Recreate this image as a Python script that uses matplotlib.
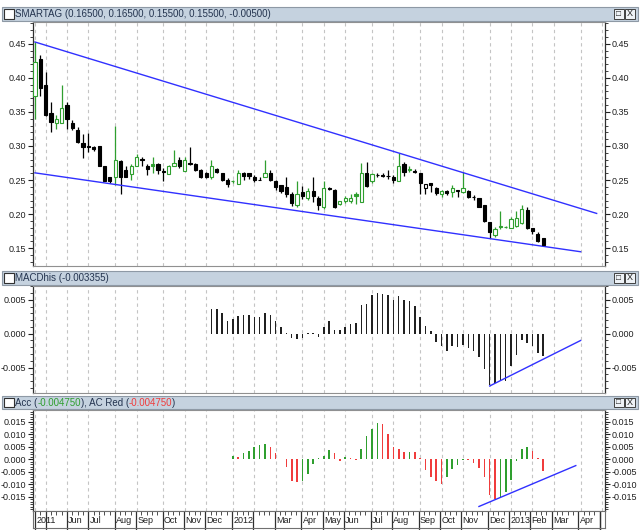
import numpy as np
import pandas as pd
import matplotlib
matplotlib.use("Agg")
import matplotlib.pyplot as plt
from matplotlib import font_manager
from matplotlib.patches import Rectangle
from matplotlib.ticker import MultipleLocator, FixedLocator, FormatStrFormatter

plt.rcParams['font.family'] = ['Liberation Sans', 'DejaVu Sans']
installed = {f.name for f in font_manager.fontManager.ttflist}
title_font = 'Liberation Sans Narrow' if 'Liberation Sans Narrow' in installed else 'Liberation Sans'

# weekly candles (Fridays), first one on 2011-04-22
first_week = "2011-04-22"
n_weeks = 108

opens = [.374, .428, .389, .348, .333, .333, .360, .334, .324, .305,
         .2995, .299, .300, .270, .255, .254, .278, .265, .259, .270,
         .281, .270, .274, .274, .263, .259, .270, .279, .264, .275,
         .274, .265, .261, .254, .266, .260, .250, .249, .244, .260,
         .260, .255, .250, .255, .261, .248, .243, .240, .230, .213,
         .233, .224, .234, .223, .210, .239, .235, .215, .219, .219,
         .229, .218, .260, .248, .2575, .257, .2565, .255, .248, .274,
         .265, .263, .260, .238, .245, .239, .2295, .234, .233, .2345,
         .233, .2345, .2255, .224, .214, .189, .1695, .1825, .1815, .180,
         .183, .187, .206, .179, .1705, .165]
highs = [.452, .434, .408, .365, .345, .389, .365, .338, .328, .318,
         .319, .300, .300, .270, .255, .329, .279, .270, .274, .288,
         .284, .274, .284, .275, .267, .272, .294, .284, .284, .299,
         .275, .266, .262, .280, .268, .261, .253, .250, .265, .262,
         .260, .257, .255, .279, .265, .250, .243, .254, .233, .248,
         .241, .238, .254, .226, .248, .240, .237, .220, .227, .230,
         .233, .275, .276, .260, .261, .2605, .265, .2575, .289, .276,
         .270, .266, .261, .244, .2455, .240, .2355, .236, .243, .236,
         .262, .2355, .228, .224, .214, .189, .181, .2045, .1825, .196,
         .205, .213, .211, .179, .1745, .165]
lows = [.340, .374, .344, .321, .325, .333, .325, .323, .304, .282,
        .291, .293, .270, .249, .245, .243, .230, .255, .250, .270,
        .270, .257, .260, .259, .248, .259, .270, .268, .264, .272,
        .264, .253, .253, .252, .260, .249, .240, .245, .244, .250,
        .252, .247, .2495, .255, .249, .236, .231, .225, .212, .210,
        .222, .221, .218, .206, .208, .235, .209, .214, .216, .216,
        .215, .218, .240, .246, .254, .254, .252, .245, .248, .256,
        .262, .260, .230, .230, .233, .228, .2255, .228, .2255, .2255,
        .2305, .224, .2205, .2105, .189, .1645, .167, .178, .180, .179,
        .181, .186, .178, .1715, .1595, .155]
closes = [.423, .385, .345, .335, .340, .355, .340, .326, .306, .299,
          .298, .295, .270, .249, .2485, .279, .255, .2545, .270, .284,
          .280, .266, .270, .265, .262, .270, .275, .270, .279, .274,
          .265, .255, .254, .270, .262, .250, .244, .248, .260, .256,
          .2555, .250, .2495, .260, .250, .240, .234, .230, .217, .229,
          .226, .234, .226, .214, .239, .237, .211, .219, .223, .224,
          .226, .260, .242, .259, .257, .2565, .256, .250, .270, .262,
          .266, .262, .245, .2437, .2432, .2305, .234, .2305, .238, .236,
          .238, .2255, .225, .2108, .190, .1744, .1785, .1806, .1810, .193,
          .195, .208, .180, .175, .160, .155]

macd_first = 33
macd_hist = [0.0036, 0.0037, 0.0030, 0.0019, 0.0022, 0.0026, 0.0027, 0.0028, 0.0025, 0.0024,
             0.0030, 0.0027, 0.0019, 0.0010, 0.0001, -0.0006, -0.0008, -0.0007, 0.0001, 0.0001,
             -0.0005, 0.0010, 0.0018, 0.0005, 0.0005, 0.0010, 0.0014, 0.0016, 0.0042, 0.0043,
             0.0057, 0.0060, 0.0059, 0.0057, 0.0050, 0.0055, 0.0050, 0.0048, 0.0041, 0.0025,
             0.0011, 0.0004, -0.0012, -0.0018, -0.0025, -0.0018, -0.0020, -0.0016, -0.0021, -0.0025,
             -0.0034, -0.0052, -0.0075, -0.0073, -0.0070, -0.0069, -0.0048, -0.0032, -0.0010, -0.0013,
             -0.0018, -0.0028, -0.003355]

acc_first = 37
acc_vals = [0.0015, 0.0009, 0.0025, 0.0034, 0.0050, 0.0056, 0.0062, 0.0050, 0.0025, 0.0002,
            -0.0029, -0.0085, -0.0091, -0.0087, -0.0058, -0.0020, 0.0005, 0.0015, 0.0037, 0.0025,
            -0.0008, 0.0009, 0.0005, -0.0003, 0.0040, 0.0094, 0.0121, 0.0144, 0.0142, 0.0102,
            0.0050, 0.0040, 0.0030, 0.0031, 0.0028, 0.0006, -0.0041, -0.0072, -0.0085, -0.0100,
            -0.0070, -0.0039, -0.0022, -0.0002, -0.0004, -0.0016, -0.0035, -0.0072, -0.0141, -0.0160,
            -0.0154, -0.0129, -0.0082, -0.0008, 0.0040, 0.0050, 0.0034, 0.0005, -0.00475]

# trend lines: (x0, x1), (y0, y1) in bar positions / values
upper_trend = ([0, 105], [0.4525, 0.2011])
lower_trend = ([0, 102], [0.2606, 0.1449])
macd_trend = ([85, 102], [-0.0077, -0.0010])
acc_trend = ([83, 101.1], [-0.0188, -0.0025])

price_ticks = [0.15, 0.20, 0.25, 0.30, 0.35, 0.40, 0.45]
macd_ticks = [-0.005, 0.0, 0.005]
acc_ticks = [-0.015, -0.010, -0.005, 0.0, 0.005, 0.010, 0.015]

month_labels = ['2011', '', 'Jun', 'Jul', 'Aug', 'Sep', 'Oct', 'Nov', 'Dec',
                '2012', '', 'Mar', 'Apr', 'May', 'Jun', 'Jul', 'Aug', 'Sep', 'Oct', 'Nov', 'Dec',
                '2013', 'Feb', 'Mar', 'Apr', '']

title_main = "SMARTAG (0.16500, 0.16500, 0.15500, 0.15500, -0.00500)"
title_macd = "MACDhis (-0.003355)"

# ---------------------------------------------------------------
W, H = 640, 530
fig = plt.figure(figsize=(W / 100, H / 100), dpi=100)
fig.patch.set_facecolor('white')


def rect(x0, y0, x1, y1):
    return [x0 / W, 1 - y1 / H, (x1 - x0) / W, (y1 - y0) / H]


dates = pd.date_range(first_week, periods=n_weeks, freq='W-FRI')
month_pos = [0] + [i for i in range(1, n_weeks) if dates[i].month != dates[i - 1].month]
xlim = (-0.36, 106.56)

GREEN = '#2f9f2f'
RED = '#f03c3c'
BLUE = '#3030ff'
GRID = '#c4c4c4'


def style_axes(ax, ylim, ticks, minor, fmt):
    ax.set_xlim(*xlim)
    ax.set_ylim(*ylim)
    ax.set_xticks(month_pos)
    ax.tick_params(axis='x', length=0, labelbottom=False)
    ax.grid(axis='x', color=GRID, lw=0.8, ls=(0, (3, 3)))
    ax.set_axisbelow(True)
    ax.yaxis.set_major_locator(FixedLocator(ticks))
    ax.yaxis.set_minor_locator(MultipleLocator(minor))
    ax.yaxis.set_major_formatter(FormatStrFormatter(fmt))
    ax.tick_params(axis='y', which='both', left=True, right=True, labelleft=True,
                   labelright=True, labelsize=6.5, colors='#202020', pad=1.5)
    ax.tick_params(axis='y', which='major', length=3.5, width=0.8)
    ax.tick_params(axis='y', which='minor', length=2, width=0.6)
    for s in ['left', 'right']:
        ax.spines[s].set_color('#303030')
        ax.spines[s].set_linewidth(0.9)
    for s in ['top', 'bottom']:
        ax.spines[s].set_color('#909090')


# ---- price panel
ax = fig.add_axes(rect(33, 22, 605, 266))
style_axes(ax, (0.124, 0.4818), price_ticks, 0.01, '%.2f')
for i in range(len(opens)):
    o, h, l, c = opens[i], highs[i], lows[i], closes[i]
    prev = closes[i - 1] if i > 0 else o
    col = GREEN if c >= prev else 'black'
    ax.vlines(i, l, h, color=col, lw=0.9, zorder=2)
    bottom = min(o, c)
    height = max(abs(c - o), 0.0006)
    face = col if c < o else 'white'
    ax.add_patch(Rectangle((i - 0.3, bottom), 0.6, height, facecolor=face,
                           edgecolor=col, lw=0.8, zorder=3))
ax.plot(*upper_trend, color=BLUE, lw=1)
ax.plot(*lower_trend, color=BLUE, lw=1)

# ---- MACD histogram panel
ax2 = fig.add_axes(rect(33, 286, 605, 393))
style_axes(ax2, (-0.00873, 0.00702), macd_ticks, 0.001, '%.3f')
mx = np.arange(macd_first, macd_first + len(macd_hist))
ax2.bar(mx, macd_hist, width=0.28, color='#202020', zorder=2)
ax2.plot(*macd_trend, color=BLUE, lw=1)

# ---- Accelerator panel
ax3 = fig.add_axes(rect(33, 410, 605, 511))
style_axes(ax3, (-0.0206, 0.01966), acc_ticks, 0.001, '%.3f')
acc_colors = [GREEN if (k == 0 or acc_vals[k] > acc_vals[k - 1]) else RED
              for k in range(len(acc_vals))]
axx = np.arange(acc_first, acc_first + len(acc_vals))
ax3.bar(axx, acc_vals, width=0.3, color=acc_colors, zorder=2)
ax3.plot(*acc_trend, color=BLUE, lw=1)

# ---- date strip
axd = fig.add_axes(rect(33, 511, 605, 528))
axd.set_xlim(*xlim)
axd.set_ylim(0, 1)
axd.set_yticks([])
axd.xaxis.set_ticks_position('top')
axd.set_xticks(month_pos + [106])
axd.set_xticks(range(n_weeks), minor=True)
axd.tick_params(axis='x', which='major', direction='in', length=17, width=0.9,
                labeltop=False, color='#303030')
axd.tick_params(axis='x', which='minor', direction='in', length=3, width=0.6, color='#303030')
for s in axd.spines.values():
    s.set_color('#707070')
for pos, lab in zip(month_pos, month_labels):
    axd.text(pos + 0.25, 0.42, lab, fontsize=6.5, ha='left', va='center', color='#202020')

# ---- title bars
def title_bar(y0, y1):
    fig.add_artist(Rectangle((2 / W, 1 - y1 / H), 636 / W, (y1 - y0) / H, transform=fig.transFigure,
                             facecolor='#c5d2df', edgecolor='#8e99a5', lw=0.8))
    s = y1 - y0 - 4
    fig.add_artist(Rectangle((4 / W, 1 - (y1 - 2) / H), 10 / W, s / H, transform=fig.transFigure,
                             facecolor='white', edgecolor='#303030', lw=0.8))
    for bx in (614, 625):
        fig.add_artist(Rectangle((bx / W, 1 - (y1 - 2) / H), 10 / W, s / H, transform=fig.transFigure,
                                 facecolor='#eef2f6', edgecolor='#404040', lw=0.7))
    fig.text(619 / W, 1 - (y0 + y1) / 2 / H, '□', fontsize=6, ha='center', va='center', color='#202020')
    fig.text(630 / W, 1 - (y0 + y1) / 2 / H, 'X', fontsize=6.5, ha='center', va='center', color='#202020')
    return 1 - (y0 + y1) / 2 / H


yc = title_bar(7, 21)
fig.text(15 / W, yc, title_main, fontsize=7, family=title_font, ha='left', va='center', color='#24344f')
yc = title_bar(271, 285)
fig.text(15 / W, yc, title_macd, fontsize=7, family=title_font, ha='left', va='center', color='#24344f')
yc = title_bar(396, 409)
fig.canvas.draw()
renderer = fig.canvas.get_renderer()
x = 15 / W
for piece, col in [('Acc (', '#24344f'), ('-0.004750', GREEN), ('), AC Red (', '#24344f'),
                   ('-0.004750', RED), (')', '#24344f')]:
    t = fig.text(x, yc, piece, fontsize=7, family=title_font, ha='left', va='center', color=col)
    bb = t.get_window_extent(renderer)
    x = bb.x1 / fig.bbox.width

fig.savefig('out.png', dpi=100)
